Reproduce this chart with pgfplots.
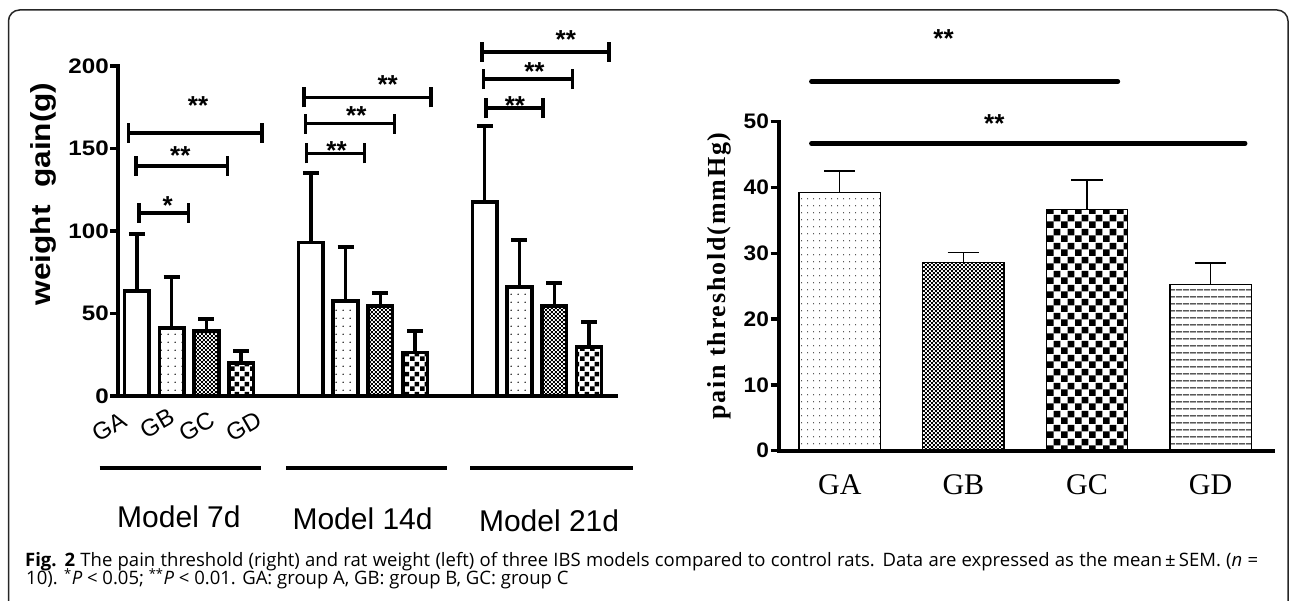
\documentclass[border=0pt]{standalone}
\usepackage{fontspec}
\setmainfont{Liberation Sans}
\newfontfamily\lsans{Liberation Sans}
\newfontfamily\lsanswide[FakeStretch=1.15]{Liberation Sans}
\newfontfamily\lsansmid[FakeStretch=1.08]{Liberation Sans}
\newfontfamily\lserif{Liberation Serif}
\newfontfamily\lserifsp[LetterSpace=7]{Liberation Serif}
\newfontfamily\capfont{Open Sans}
\usepackage{pgfplots}
\pgfplotsset{compat=1.18}
\usetikzlibrary{patterns.meta}

\tikzdeclarepattern{name=ldots, type=uncolored,
  bottom left={(0pt,0pt)}, top right={(6.6pt,8.3pt)}, tile size={(6.6pt,8.3pt)},
  code={\fill (3.3pt,4.15pt) circle (0.8pt);}}
\tikzdeclarepattern{name=rdots, type=uncolored,
  bottom left={(0pt,0pt)}, top right={(6.1pt,6.7pt)}, tile size={(6.1pt,6.7pt)},
  code={\fill (3.05pt,3.35pt) circle (0.6pt);}}
\tikzdeclarepattern{name=fchk, type=uncolored,
  bottom left={(0pt,0pt)}, top right={(4.4pt,4.4pt)}, tile size={(4.4pt,4.4pt)},
  code={\fill (0pt,0pt) rectangle (2.2pt,2.2pt); \fill (2.2pt,2.2pt) rectangle (4.4pt,4.4pt);}}
\tikzdeclarepattern{name=lchk, type=uncolored,
  bottom left={(0pt,0pt)}, top right={(10pt,10pt)}, tile size={(10pt,10pt)},
  code={\fill (0pt,0pt) rectangle (5pt,5pt); \fill (5pt,5pt) rectangle (10pt,10pt);}}
\tikzdeclarepattern{name=rchk, type=uncolored,
  bottom left={(0pt,0pt)}, top right={(13.6pt,13.6pt)}, tile size={(13.6pt,13.6pt)},
  code={\fill (0pt,0pt) rectangle (6.8pt,6.8pt); \fill (6.8pt,6.8pt) rectangle (13.6pt,13.6pt);}}
\tikzdeclarepattern{name=rhl, type=uncolored,
  bottom left={(0pt,0pt)}, top right={(7pt,7pt)}, tile size={(7pt,7pt)},
  code={\fill (0pt,3pt) rectangle (7pt,4.2pt);}}

\pgfplotsset{
  lbar/.style={ybar, bar shift=0pt, bar width=0.71, draw=black, line width=3.5pt,
    error bars/y dir=plus, error bars/y explicit,
    error bars/error bar style={line width=3.5pt},
    error bars/error mark options={rotate=90, line width=4pt, mark size=8pt}},
  rbar/.style={ybar, bar shift=0pt, bar width=0.66, draw=black, line width=1.4pt,
    error bars/y dir=plus, error bars/y explicit,
    error bars/error bar style={line width=1.4pt},
    error bars/error mark options={rotate=90, line width=1.6pt, mark size=15.7pt}},
}

\begin{document}
\begin{tikzpicture}
\useasboundingbox (0pt,0pt) rectangle (1290pt,601pt);
% frame
\draw[line width=1.5pt, black!85, rounded corners=11pt] (8.5pt,-5pt) -- (8.5pt,591pt) -- (1288pt,591pt) -- (1288pt,-5pt);

% ---------------- left panel ----------------
\begin{axis}[
  at={(118.4pt,205pt)}, anchor=south west,
  scale only axis, width=497.1pt, height=330pt,
  xmin=-0.53, xmax=13.76, ymin=0, ymax=200,
  clip=false,
  axis x line*=bottom, axis y line*=left,
  axis line style={-, line width=4pt, line cap=rect},
  ytick={0,50,100,150,200},
  tick align=outside, major tick length=8pt,
  ytick style={line width=3.5pt, black},
  xtick=\empty,
  /pgf/number format/assume math mode=true,
  yticklabel style={font=\fontsize{21}{21}\selectfont\lsanswide\bfseries, inner sep=1.5pt},
  ylabel={weight\ \ gain(g)},
  ylabel style={font=\fontsize{27.5}{27.5}\selectfont\lsanswide\bfseries, at={(axis description cs:-0.1517,0.612)}, anchor=center},
]
\addplot[lbar, fill=white]
  coordinates {(0,63.6) +- (0,34.4) (5,93) +- (0,42) (10,117.5) +- (0,46.1)};
\addplot[lbar, pattern=ldots]
  coordinates {(1,41.2) +- (0,30.8) (6,57.6) +- (0,32.7) (11,66) +- (0,28.5)};
\addplot[lbar, pattern=fchk]
  coordinates {(2,39.4) +- (0,7.3) (7,54.5) +- (0,7.9) (12,54.5) +- (0,14)};
\addplot[lbar, pattern=lchk]
  coordinates {(3,20) +- (0,7) (8,26.5) +- (0,12.9) (13,29.7) +- (0,15.1)};

% group tick labels (rotated)
\node[rotate=30, inner sep=0pt, font=\fontsize{24}{24}\selectfont\lsans] at (axis cs:-0.80,-18.5) {GA};
\node[rotate=30, inner sep=0pt, font=\fontsize{24}{24}\selectfont\lsans] at (axis cs:0.58,-16.5) {GB};
\node[rotate=30, inner sep=0pt, font=\fontsize{24}{24}\selectfont\lsans] at (axis cs:1.72,-18.5) {GC};
\node[rotate=30, inner sep=0pt, font=\fontsize{24}{24}\selectfont\lsans] at (axis cs:3.07,-18.5) {GD};

% significance brackets
\draw[line width=3.5pt] (axis cs:0.06,111) ++(0pt,-10pt) -- ++(0pt,20pt) (axis cs:0.06,111) -- (axis cs:1.49,111) ++(0pt,-10pt) -- ++(0pt,20pt);
\draw[line width=3.5pt] (axis cs:-0.02,139.4) ++(0pt,-10pt) -- ++(0pt,20pt) (axis cs:-0.02,139.4) -- (axis cs:2.60,139.4) ++(0pt,-10pt) -- ++(0pt,20pt);
\draw[line width=3.5pt] (axis cs:-0.24,159.4) ++(0pt,-10pt) -- ++(0pt,20pt) (axis cs:-0.24,159.4) -- (axis cs:3.60,159.4) ++(0pt,-10pt) -- ++(0pt,20pt);
\draw[line width=3.5pt] (axis cs:4.88,147) ++(0pt,-10pt) -- ++(0pt,20pt) (axis cs:4.88,147) -- (axis cs:6.55,147) ++(0pt,-10pt) -- ++(0pt,20pt);
\draw[line width=3.5pt] (axis cs:4.85,165) ++(0pt,-10pt) -- ++(0pt,20pt) (axis cs:4.85,165) -- (axis cs:7.41,165) ++(0pt,-10pt) -- ++(0pt,20pt);
\draw[line width=3.5pt] (axis cs:4.80,181) ++(0pt,-10pt) -- ++(0pt,20pt) (axis cs:4.80,181) -- (axis cs:8.46,181) ++(0pt,-10pt) -- ++(0pt,20pt);
\draw[line width=3.5pt] (axis cs:10.03,174.5) ++(0pt,-10pt) -- ++(0pt,20pt) (axis cs:10.03,174.5) -- (axis cs:11.67,174.5) ++(0pt,-10pt) -- ++(0pt,20pt);
\draw[line width=3.5pt] (axis cs:9.97,192) ++(0pt,-10pt) -- ++(0pt,20pt) (axis cs:9.97,192) -- (axis cs:12.53,192) ++(0pt,-10pt) -- ++(0pt,20pt);
\draw[line width=3.5pt] (axis cs:9.92,208.5) ++(0pt,-10pt) -- ++(0pt,20pt) (axis cs:9.92,208.5) -- (axis cs:13.58,208.5) ++(0pt,-10pt) -- ++(0pt,20pt);
\node[anchor=base, inner sep=0pt, font=\fontsize{26}{26}\selectfont\lsans\bfseries] at (axis cs:0.89,109.7) {*};
\node[anchor=base, inner sep=0pt, font=\fontsize{26}{26}\selectfont\lsans\bfseries] at (axis cs:1.25,140.6) {**};
\node[anchor=base, inner sep=0pt, font=\fontsize{26}{26}\selectfont\lsans\bfseries] at (axis cs:1.76,170.6) {**};
\node[anchor=base, inner sep=0pt, font=\fontsize{26}{26}\selectfont\lsans\bfseries] at (axis cs:5.74,143.6) {**};
\node[anchor=base, inner sep=0pt, font=\fontsize{26}{26}\selectfont\lsans\bfseries] at (axis cs:6.31,164.4) {**};
\node[anchor=base, inner sep=0pt, font=\fontsize{26}{26}\selectfont\lsans\bfseries] at (axis cs:7.21,183.6) {**};
\node[anchor=base, inner sep=0pt, font=\fontsize{26}{26}\selectfont\lsans\bfseries] at (axis cs:10.87,170.9) {**};
\node[anchor=base, inner sep=0pt, font=\fontsize{26}{26}\selectfont\lsans\bfseries] at (axis cs:11.43,191.5) {**};
\node[anchor=base, inner sep=0pt, font=\fontsize{26}{26}\selectfont\lsans\bfseries] at (axis cs:12.33,210.6) {**};

% group lines and labels
\draw[line width=4.5pt] (axis cs:-1.07,-43.6) -- (axis cs:3.57,-43.6);
\draw[line width=4.5pt] (axis cs:4.29,-43.6) -- (axis cs:8.93,-43.6);
\draw[line width=4.5pt] (axis cs:9.59,-43.6) -- (axis cs:14.26,-43.6);
\node[anchor=base, inner sep=0pt, font=\fontsize{30}{30}\selectfont\lsans] at (axis cs:1.21,-80) {Model 7d};
\node[anchor=base, inner sep=0pt, font=\fontsize{30}{30}\selectfont\lsans] at (axis cs:6.49,-81.2) {Model 14d};
\node[anchor=base, inner sep=0pt, font=\fontsize{30}{30}\selectfont\lsans] at (axis cs:11.85,-82.4) {Model 21d};
\end{axis}

% ---------------- right panel ----------------
\begin{axis}[
  at={(778.6pt,150.3pt)}, anchor=south west,
  scale only axis, width=494.4pt, height=329pt,
  xmin=-0.495, xmax=3.505, ymin=0, ymax=50,
  clip=false,
  axis x line*=bottom, axis y line*=left,
  axis line style={-, line width=4pt, line cap=rect},
  ytick={0,10,20,30,40,50},
  tick align=outside, major tick length=8pt,
  ytick style={line width=3.5pt, black},
  xtick={0,1,2,3},
  xticklabels={GA,GB,GC,GD},
  xtick style={draw=none},
  xticklabel style={font=\fontsize{30}{30}\selectfont\lserif, anchor=center, yshift=-26pt},
  /pgf/number format/assume math mode=true,
  yticklabel style={font=\fontsize{21}{21}\selectfont\lsansmid\bfseries, inner sep=1.5pt},
  ylabel={pain threshold(mmHg)},
  ylabel style={font=\fontsize{26}{26}\selectfont\lserifsp\bfseries, at={(axis description cs:-0.1206,0.531)}, anchor=center},
]
\addplot[rbar, pattern=rdots] coordinates {(0,39.2) +- (0,3.35)};
\addplot[rbar, pattern=fchk] coordinates {(1,28.6) +- (0,1.5)};
\addplot[rbar, pattern=rchk] coordinates {(2,36.7) +- (0,4.4)};
\addplot[rbar, pattern=rhl] coordinates {(3,25.3) +- (0,3.2)};

\draw[line width=4.5pt, line cap=round] (axis cs:-0.23,56.1) -- (axis cs:2.25,56.1);
\draw[line width=4.5pt, line cap=round] (axis cs:-0.23,46.7) -- (axis cs:3.28,46.7);
\node[anchor=base, inner sep=0pt, font=\fontsize{26}{26}\selectfont\lsans\bfseries] at (axis cs:0.84,61.2) {**};
\node[anchor=base, inner sep=0pt, font=\fontsize{26}{26}\selectfont\lsans\bfseries] at (axis cs:1.25,48.4) {**};
\end{axis}

% caption
\node[anchor=base west, inner sep=0pt, text depth=0pt, font=\fontsize{18.5}{18}\selectfont\capfont] at (25pt,34.3pt)
  {\makebox[1233pt][s]{\textbf{Fig. 2} The pain threshold (right) and rat weight (left) of three IBS models compared to control rats. Data are expressed as the mean\,±\,SEM. (\textit{n} =}};
\node[anchor=base west, inner sep=0pt, text height=11pt, font=\fontsize{18.5}{18}\selectfont\capfont] at (26pt,16pt)
  {10). \textsuperscript{*}\textit{P} < 0.05; \textsuperscript{**}\textit{P} < 0.01. GA: group A, GB: group B, GC: group C};
\end{tikzpicture}
\end{document}
